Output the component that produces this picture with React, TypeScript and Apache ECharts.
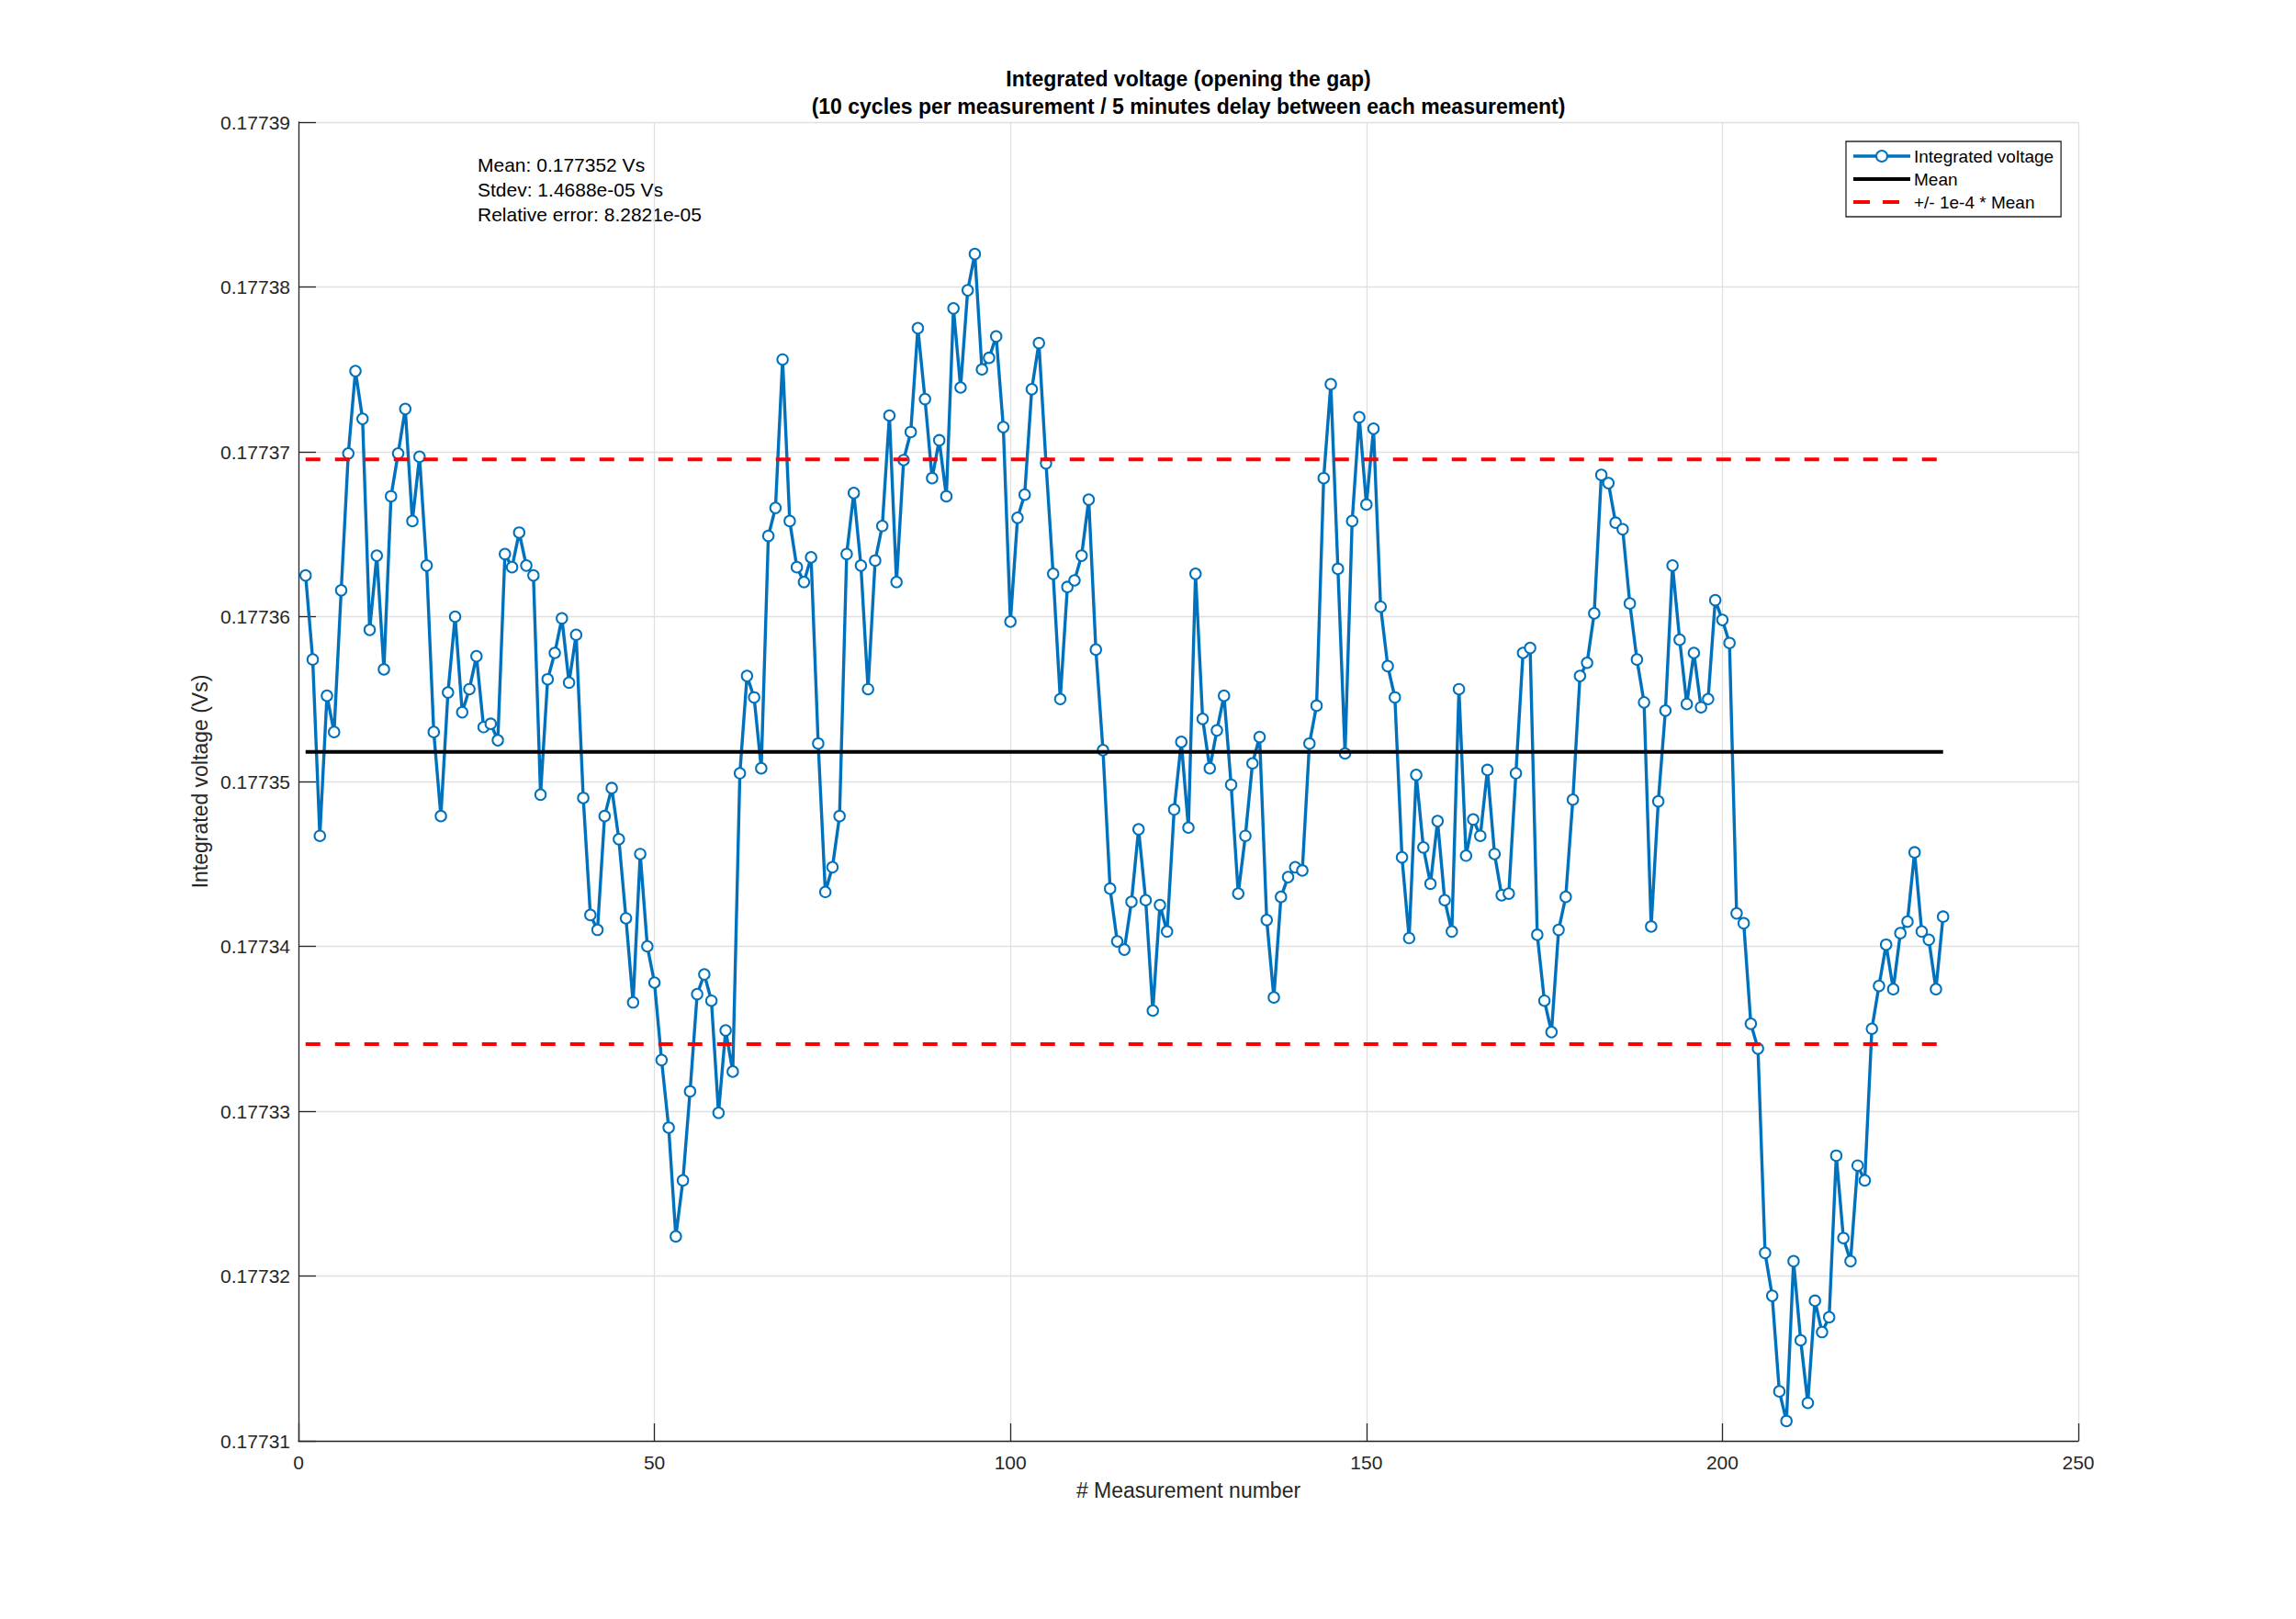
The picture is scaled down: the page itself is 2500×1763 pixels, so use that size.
import React, { useEffect, useRef } from "react";
import * as echarts from "echarts";

const FONT = "'Liberation Sans', Arial, Helvetica, sans-serif";

const TITLE_LINES = [
  "Integrated voltage (opening the gap)",
  "(10 cycles per measurement / 5 minutes delay between each measurement)",
];
const X_NAME = "# Measurement number";
const Y_NAME = "Integrated voltage (Vs)";
const SERIES_NAMES = ["Integrated voltage", "Mean", "+/- 1e-4 * Mean"];
const STATS_LINES = [
  "Mean: 0.177352 Vs",
  "Stdev: 1.4688e-05 Vs",
  "Relative error: 8.2821e-05",
];

const X_MIN = 0;
const X_MAX = 250;
const X_STEP = 50;
const Y_MIN = 0.17731;
const Y_MAX = 0.17739;
const Y_STEP = 0.00001;

// mean of the measurements (shown rounded as 0.177352 in the text)
const MEAN = 0.1773518;
const REL_BAND = 1e-4;

// Integrated voltage per measurement (measurement 1 .. 231)
const voltage1to50 = [
  0.1773625, 0.1773574, 0.1773467, 0.1773552, 0.177353, 0.1773616, 0.1773699, 0.1773749, 0.177372, 0.1773592,
  0.1773637, 0.1773568, 0.1773673, 0.1773699, 0.1773726, 0.1773658, 0.1773697, 0.1773631, 0.177353, 0.1773479,
  0.1773554, 0.17736, 0.1773542, 0.1773556, 0.1773576, 0.1773533, 0.1773535, 0.1773525, 0.1773638, 0.177363,
  0.1773651, 0.1773631, 0.1773625, 0.1773492, 0.1773562, 0.1773578, 0.1773599, 0.177356, 0.1773589, 0.177349,
  0.1773419, 0.177341, 0.1773479, 0.1773496, 0.1773465, 0.1773417, 0.1773366, 0.1773456, 0.17734, 0.1773378,
];
const voltage51to100 = [
  0.1773331, 0.177329, 0.1773224, 0.1773258, 0.1773312, 0.1773371, 0.1773383, 0.1773367, 0.1773299, 0.1773349,
  0.1773324, 0.1773505, 0.1773564, 0.1773551, 0.1773508, 0.1773649, 0.1773666, 0.1773756, 0.1773658, 0.177363,
  0.1773621, 0.1773636, 0.1773523, 0.1773433, 0.1773448, 0.1773479, 0.1773638, 0.1773675, 0.1773631, 0.1773556,
  0.1773634, 0.1773655, 0.1773722, 0.1773621, 0.1773695, 0.1773712, 0.1773775, 0.1773732, 0.1773684, 0.1773707,
  0.1773673, 0.1773787, 0.1773739, 0.1773798, 0.177382, 0.177375, 0.1773757, 0.177377, 0.1773715, 0.1773597,
];
const voltage101to150 = [
  0.177366, 0.1773674, 0.1773738, 0.1773766, 0.1773693, 0.1773626, 0.177355, 0.1773618, 0.1773622, 0.1773637,
  0.1773671, 0.177358, 0.1773519, 0.1773435, 0.1773403, 0.1773398, 0.1773427, 0.1773471, 0.1773428, 0.1773361,
  0.1773425, 0.1773409, 0.1773483, 0.1773524, 0.1773472, 0.1773626, 0.1773538, 0.1773508, 0.1773531, 0.1773552,
  0.1773498, 0.1773432, 0.1773467, 0.1773511, 0.1773527, 0.1773416, 0.1773369, 0.177343, 0.1773442, 0.1773448,
  0.1773446, 0.1773523, 0.1773546, 0.1773684, 0.1773741, 0.1773629, 0.1773517, 0.1773658, 0.1773721, 0.1773668,
];
const voltage151to200 = [
  0.1773714, 0.1773606, 0.177357, 0.1773551, 0.1773454, 0.1773405, 0.1773504, 0.177346, 0.1773438, 0.1773476,
  0.1773428, 0.1773409, 0.1773556, 0.1773455, 0.1773477, 0.1773467, 0.1773507, 0.1773456, 0.1773431, 0.1773432,
  0.1773505, 0.1773578, 0.1773581, 0.1773407, 0.1773367, 0.1773348, 0.177341, 0.177343, 0.1773489, 0.1773564,
  0.1773572, 0.1773602, 0.1773686, 0.1773681, 0.1773657, 0.1773653, 0.1773608, 0.1773574, 0.1773548, 0.1773412,
  0.1773488, 0.1773543, 0.1773631, 0.1773586, 0.1773547, 0.1773578, 0.1773545, 0.177355, 0.177361, 0.1773598,
];
const voltage201to231 = [
  0.1773584, 0.177342, 0.1773414, 0.1773353, 0.1773338, 0.1773214, 0.1773188, 0.177313, 0.1773112, 0.1773209,
  0.1773161, 0.1773123, 0.1773185, 0.1773166, 0.1773175, 0.1773273, 0.1773223, 0.1773209, 0.1773267, 0.1773258,
  0.177335, 0.1773376, 0.1773401, 0.1773374, 0.1773408, 0.1773415, 0.1773457, 0.1773409, 0.1773404, 0.1773374,
  0.1773418,
];

const voltage = [
  ...voltage1to50,
  ...voltage51to100,
  ...voltage101to150,
  ...voltage151to200,
  ...voltage201to231,
];

export default function App() {
  const ref = useRef<HTMLDivElement | null>(null);

  useEffect(() => {
    if (!ref.current) return;
    const chart = echarts.init(ref.current, undefined, { renderer: "svg" });

    const first = 1;
    const last = voltage.length;
    const points = voltage.map((v, i) => [i + 1, v]);
    const upper = MEAN * (1 + REL_BAND);
    const lower = MEAN * (1 - REL_BAND);

    const axisColor = "#262626";
    const gridColor = "#e0e0e0";
    const blue = "#0072BD";

    const option: any = {
      animation: false,
      backgroundColor: "#ffffff",
      textStyle: { fontFamily: FONT },
      title: {
        text: TITLE_LINES.join("\n"),
        left: 1294,
        top: 71,
        textAlign: "center",
        padding: 0,
        textStyle: {
          fontFamily: FONT,
          fontSize: 23,
          fontWeight: "bold",
          color: "#000000",
          lineHeight: 30,
        },
      },
      grid: { left: 325, top: 133, width: 1938, height: 1436, containLabel: false },
      legend: {
        orient: "vertical",
        left: 2010,
        top: 154,
        padding: [5, 8, 5, 6],
        itemGap: 3,
        itemWidth: 62,
        itemHeight: 15,
        backgroundColor: "#ffffff",
        borderColor: "#262626",
        borderWidth: 1.3,
        borderRadius: 0,
        selectedMode: false,
        data: [
          { name: SERIES_NAMES[0], lineStyle: { width: 3.4 } },
          { name: SERIES_NAMES[1], lineStyle: { width: 4 } },
          { name: SERIES_NAMES[2], lineStyle: { width: 4, type: [18, 14] } },
        ],
        textStyle: { fontFamily: FONT, fontSize: 19, color: "#000000", lineHeight: 22, padding: [0, 0, 0, -1] },
      },
      graphic: [
        {
          type: "text",
          left: 520,
          top: 166,
          silent: true,
          style: {
            text: STATS_LINES.join("\n"),
            fontFamily: FONT,
            fontSize: 21,
            lineHeight: 27,
            fill: "#000000",
          },
        },
      ],
      xAxis: {
        type: "value",
        min: X_MIN,
        max: X_MAX,
        interval: X_STEP,
        name: X_NAME,
        nameLocation: "middle",
        nameGap: 42,
        nameTextStyle: { fontFamily: FONT, fontSize: 23, color: axisColor },
        axisLine: { show: true, onZero: false, lineStyle: { color: axisColor, width: 1.3 } },
        axisTick: { show: true, inside: true, length: 19, lineStyle: { color: axisColor, width: 1.3 } },
        axisLabel: { margin: 13, fontFamily: FONT, fontSize: 21, color: axisColor },
        splitLine: { show: true, lineStyle: { color: gridColor, width: 1.3 } },
      },
      yAxis: {
        type: "value",
        min: Y_MIN,
        max: Y_MAX,
        interval: Y_STEP,
        name: Y_NAME,
        nameLocation: "middle",
        nameGap: 91,
        nameTextStyle: { fontFamily: FONT, fontSize: 23, color: axisColor },
        axisLine: { show: true, lineStyle: { color: axisColor, width: 1.3 } },
        axisTick: { show: true, inside: true, length: 19, lineStyle: { color: axisColor, width: 1.3 } },
        axisLabel: {
          margin: 9,
          fontFamily: FONT,
          fontSize: 21,
          color: axisColor,
          formatter: (v: number) => v.toFixed(5),
        },
        splitLine: { show: true, lineStyle: { color: gridColor, width: 1.3 } },
      },
      series: [
        {
          name: SERIES_NAMES[0],
          type: "line",
          data: points,
          symbol: "emptyCircle",
          symbolSize: 11.5,
          showAllSymbol: true,
          color: blue,
          lineStyle: { color: blue, width: 3.4 },
          itemStyle: { color: blue, borderColor: blue, borderWidth: 3 },
          emphasis: { disabled: true },
          z: 2,
        },
        {
          name: SERIES_NAMES[1],
          type: "line",
          data: [
            [first, MEAN],
            [last, MEAN],
          ],
          symbol: "none",
          color: "#000000",
          itemStyle: { opacity: 0 },
          lineStyle: { color: "#000000", width: 4 },
          emphasis: { disabled: true },
          z: 3,
        },
        {
          name: SERIES_NAMES[2],
          type: "line",
          data: [
            [first, upper],
            [last, upper],
          ],
          symbol: "none",
          color: "#ff0000",
          itemStyle: { opacity: 0 },
          lineStyle: { color: "#ff0000", width: 4, type: [16, 16] },
          emphasis: { disabled: true },
          z: 3,
        },
        {
          name: SERIES_NAMES[2],
          type: "line",
          data: [
            [first, lower],
            [last, lower],
          ],
          symbol: "none",
          color: "#ff0000",
          itemStyle: { opacity: 0 },
          lineStyle: { color: "#ff0000", width: 4, type: [16, 16] },
          emphasis: { disabled: true },
          z: 3,
        },
      ],
    };

    chart.setOption(option);
    return () => {
      chart.dispose();
    };
  }, []);

  return (
    <div
      ref={ref}
      style={{ position: "absolute", left: 0, top: 0, width: 2500, height: 1763, background: "#ffffff" }}
    />
  );
}
